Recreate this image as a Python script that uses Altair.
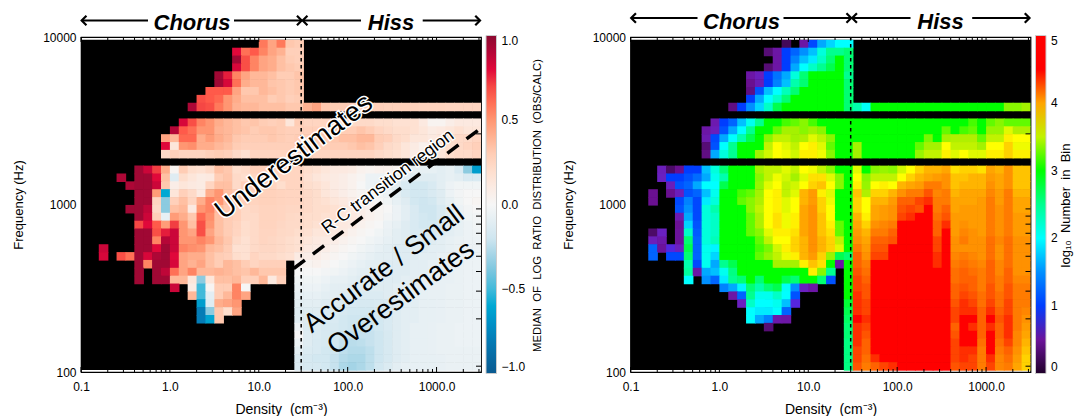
import math
import altair as alt
import pandas as pd

_ = None
# ---- LEFT PANEL: median log ratio, hundredths. (first column, values); row 0 is the top row
L00 = (20, [58,45,58,32,30])
L01 = (17, [80,60,65,55,45,40,28,28])
L02 = (17, [95,68,55,45,42,35,30,28])
L03 = (17, [82,68,55,45,42,35,32,30])
L04 = (15, [95,78,55,45,38,38,35,30,30,33])
L05 = (15, [95,82,60,42,38,38,33,32,30,32])
L06 = (14, [65,65,65,45,32,32,38,35,32,30,32])
L07 = (13, [68,65,62,50,42,35,35,35,30,32,28,30])
L08 = (12, [92,70,68,58,50,40,38,38,35,35,35,32,32,40,45,32,30,30,28,28,28,28,27,27,27,27,26,26,26,25,25,25,25])
L09 = (0, [])
L10 = (11, [82,68,55,50,42,38,35,32,33,30,28,30,15,30,25,25,25,25,22,22,22,22,20,20,18,18,18,12,3,3,8,12,12,12])
L11 = (10, [90,65,60,50,50,40,38,35,33,30,32,32,30,28,28,28,28,28,30,30,30,33,30,25,22,20,20,18,15,10,12,15,18,15,15])
L12 = (9, [45,38,62,62,42,48,42,38,32,30,30,30,32,30,28,30,30,30,30,32,35,35,38,38,30,28,22,20,15,15,12,15,20,22,22,25])
L13 = (9, [80,15,50,52,42,42,38,35,30,28,28,28,28,28,28,28,28,28,28,30,30,32,35,33,28,22,20,15,10,5,10,15,20,22,25,28])
L14 = (9, [22,28,25,25,25,28,30,28,22,18,25,25,25,25,25,25,25,25,25,25,25,25,25,25,22,20,18,15,8,5,8,15,20,22,22,25])
L15 = (0, [])
L16 = (6, [95,85,72,42,3,30,20,18,22,35,32,20,22,28,28,27,27,25,25,20,18,15,12,12,10,5,3,5,5,3,-5,-8,-8,-8,-10,-8,-15,-35,-65])
L17 = (4, [92,_,95,95,80,35,-12,20,15,10,12,30,33,22,20,25,28,28,25,25,25,18,15,12,10,8,5,2,-5,-5,-3,-5,-10,-12,-12,-12,-10,-8,-10,-15,-15])
L18 = (5, [92,95,95,85,32,8,15,12,10,25,35,35,22,28,28,28,25,20,25,25,20,18,15,10,8,5,0,-5,-8,-8,-10,-15,-18,-18,-15,-10,-5,-3,-3,-3])
L19 = (6, [95,95,48,-60,15,28,22,12,42,50,35,30,28,26,27,27,26,25,25,22,20,15,12,8,5,2,0,-3,-5,-10,-15,-18,-18,-15,-12,-5,-2,0,0])
L20 = (6, [95,95,25,-35,28,35,25,42,55,50,35,32,28,26,27,27,26,25,25,22,20,18,15,12,8,5,3,0,-3,-8,-12,-18,-20,-18,-12,-8,-3,0,2])
L21 = (5, [95,95,88,22,-35,35,38,12,50,55,38,32,28,22,24,26,26,25,24,24,22,20,20,18,15,10,8,5,2,0,-5,-10,-15,-20,-20,-15,-10,-5,-2,0])
L22 = (6, [95,85,28,-8,48,42,32,62,52,35,30,28,22,22,26,26,25,23,22,20,20,18,18,15,12,8,5,2,-2,-5,-10,-15,-18,-20,-15,-10,-6,-3,-2])
L23 = (6, [70,80,65,48,72,50,35,68,50,35,30,26,20,22,26,26,24,22,22,20,18,18,15,12,10,5,2,0,-5,-8,-12,-15,-18,-18,-15,-10,-8,-5,-3])
L24 = (6, [95,95,68,78,85,50,45,68,45,35,30,25,20,22,25,25,23,22,20,18,15,15,12,10,5,2,0,-3,-6,-10,-12,-15,-15,-15,-12,-10,-8,-5,-4])
L25 = (6, [95,95,55,90,85,50,50,55,50,38,32,22,18,22,25,24,22,20,18,15,12,10,8,5,2,0,-3,-5,-8,-10,-12,-14,-14,-12,-10,-8,-6,-5,-5])
L26 = (2, [85,_,_,_,95,95,80,95,85,55,52,50,38,35,30,18,18,22,24,24,22,20,18,12,10,8,5,2,0,-3,-5,-8,-10,-12,-12,-12,-12,-10,-10,-8,-6,-5,-5])
L27 = (2, [82,_,68,60,95,82,92,95,80,45,42,42,35,30,28,20,18,25,22,22,20,18,10,8,8,5,2,0,-3,-5,-8,-10,-10,-12,-12,-12,-10,-10,-8,-7,-6,-5,-5])
L28 = (6, [95,55,95,95,82,45,40,45,35,30,38,35,30,25,28,28,28,_,3,3,5,2,0,-3,-5,-8,-10,-10,-12,-12,-12,-10,-10,-8,-8,-7,-6,-5,-5])
L29 = (6, [95,_,95,88,60,45,55,38,38,40,38,35,33,38,32,32,32,_,0,0,0,-2,-3,-5,-8,-10,-10,-12,-12,-12,-12,-10,-10,-8,-8,-7,-6,-5,-5])
L30 = (6, [95,_,95,95,38,38,15,-35,15,35,35,38,28,28,38,12,28,_,-3,-3,-3,-5,-8,-8,-10,-12,-12,-12,-12,-12,-10,-10,-8,-8,-7,-7,-6,-5,-5])
L31 = (10, [85,_,10,-50,2,30,30,55,0,_,_,_,_,_,-5,-5,-5,-8,-10,-10,-12,-12,-12,-12,-12,-10,-10,-8,-8,-7,-7,-6,-6,-5,-5])
L32 = (12, [38,-50,-10,30,38,55,45,_,_,_,_,_,-8,-8,-8,-10,-10,-12,-14,-14,-14,-14,-12,-10,-10,-8,-8,-7,-7,-6,-6,-5,-5])
L33 = (13, [-65,-12,42,45,50,_,_,_,_,_,_,-10,-10,-10,-12,-12,-14,-15,-16,-16,-15,-14,-12,-10,-10,-8,-8,-7,-6,-6,-5,-5])
L34 = (13, [-80,-35,32,20,45,_,_,_,_,_,_,-12,-12,-12,-14,-14,-16,-18,-18,-18,-16,-14,-12,-10,-10,-8,-8,-7,-6,-6,-5,-5])
L35 = (13, [-80,-62,32,_,_,_,_,_,_,_,_,-12,-12,-14,-14,-15,-18,-20,-20,-20,-18,-15,-12,-10,-10,-8,-8,-7,-6,-6,-5,-5])
L36 = (24, [-5,-14,-14,-16,-16,-18,-20,-22,-20,-18,-15,-12,-10,-8,-8,-7,-6,-6,-5,-5,-5])
L37 = (24, [0,-12,-14,-16,-18,-20,-22,-22,-22,-20,-16,-12,-10,-8,-8,-7,-6,-6,-5,-5,-5])
L38 = (24, [-5,-12,-15,-16,-18,-22,-25,-24,-22,-20,-16,-12,-10,-8,-8,-7,-6,-6,-5,-5,-5])
L39 = (24, [-10,-14,-15,-18,-20,-24,-26,-26,-24,-20,-16,-12,-10,-8,-8,-7,-6,-6,-6,-6,-6])
L40 = (24, [-14,-16,-18,-18,-22,-26,-28,-28,-24,-20,-16,-12,-10,-8,-8,-8,-7,-6,-6,-6,-6])
L41 = (24, [-14,-16,-16,-18,-22,-28,-30,-28,-24,-18,-14,-10,-8,-8,-8,-8,-7,-6,-6,-6,-6])
LEFT_ROWS = [L00,L01,L02,L03,L04,L05,L06,L07,L08,L09,L10,L11,L12,L13,L14,L15,L16,L17,L18,L19,L20,
             L21,L22,L23,L24,L25,L26,L27,L28,L29,L30,L31,L32,L33,L34,L35,L36,L37,L38,L39,L40,L41]

# ---- RIGHT PANEL: log10 number in bin, hundredths
R00 = (17, [20,_,60,105,160,180,200,200])
R01 = (15, [30,60,100,120,150,170,220,250,250,260])
R02 = (16, [60,100,140,170,190,230,260,280,260])
R03 = (15, [30,60,100,160,200,230,250,270,280,260])
R04 = (13, [60,80,100,130,160,220,260,280,280,290,290,250])
R05 = (13, [40,75,100,140,170,240,260,290,290,295,295,260])
R06 = (13, [35,110,170,200,235,260,300,300,300,300,300,260])
R07 = (13, [100,160,200,230,260,300,300,300,300,300,300,260])
R08 = (11, [35,100,150,180,230,270,300,300,300,300,300,300,300,260,240,205,285,295,295,295,295,295,295,295,295,295,295,295,295,295,300,330,330,340])
R09 = (0, [])
R10 = (9, [70,100,120,170,210,250,290,310,315,320,330,315,300,300,300,295,300,300,300,300,300,300,300,300,300,300,300,300,310,315,300,320,330,320,320,320])
R11 = (8, [60,80,110,160,200,250,280,300,320,340,340,330,340,330,310,300,290,300,300,300,300,300,300,300,300,300,300,320,310,315,320,305,335,335,360,345,345])
R12 = (8, [70,105,160,200,240,270,300,330,350,350,340,345,360,350,330,300,295,300,300,305,305,300,300,300,300,325,310,340,345,345,345,320,350,350,375,370,370])
R13 = (8, [30,110,200,250,280,300,310,350,370,360,350,370,375,360,320,300,300,340,300,310,300,300,300,300,320,340,340,370,350,350,350,340,370,370,385,365,365])
R14 = (8, [35,160,220,250,280,300,340,355,370,365,355,375,375,365,330,300,300,340,300,300,300,300,305,300,335,350,350,375,360,370,360,360,375,375,385,375,375])
R15 = (0, [])
R16 = (3, [80,25,40,100,100,170,220,260,290,300,310,340,350,350,360,350,370,365,350,330,300,300,360,300,330,335,330,355,370,385,395,395,400,380,385,385,380,400,395,410,390,390])
R17 = (3, [85,100,100,110,125,160,210,240,280,300,305,330,350,365,355,340,360,380,380,360,330,300,370,330,350,350,350,370,385,395,400,405,410,390,390,395,395,405,400,410,390,390])
R18 = (4, [80,110,120,160,200,200,270,300,300,310,335,360,370,350,355,370,385,390,370,330,300,375,335,370,375,370,395,400,405,420,420,410,390,395,395,395,410,400,410,390,390])
R19 = (2, [40,_,40,80,110,120,170,210,300,300,315,320,340,370,375,350,360,395,405,375,360,300,300,390,345,385,385,395,410,420,420,435,415,420,395,400,400,400,415,405,420,395,395])
R20 = (2, [40,_,_,105,140,105,190,220,300,310,320,330,345,370,375,360,370,395,405,385,365,305,300,385,370,395,395,405,430,430,440,445,420,420,400,400,400,405,420,405,420,400,400])
R21 = (5, [110,150,105,220,240,300,300,310,330,350,370,375,360,370,400,410,385,370,310,300,385,370,400,405,410,435,440,435,450,420,430,400,405,405,405,420,410,420,400,400])
R22 = (5, [70,160,105,220,230,300,300,305,320,345,370,380,365,375,400,410,390,370,310,300,395,375,400,405,410,440,445,450,450,425,435,405,405,405,405,420,410,420,405,405])
R23 = (5, [45,180,110,220,230,300,300,305,320,345,370,380,365,375,400,410,390,375,320,305,400,385,410,415,420,450,450,450,450,430,445,405,410,405,405,420,410,420,405,405])
R24 = (2, [25,85,_,50,230,115,220,230,300,300,300,320,330,360,375,375,380,400,410,390,380,320,300,405,395,420,420,430,450,450,450,450,430,450,405,415,410,405,420,410,420,405,405])
R25 = (2, [80,65,_,50,260,120,220,235,300,300,300,310,320,350,370,370,385,395,410,395,385,350,300,410,400,430,430,435,450,450,450,450,440,450,410,420,410,410,425,415,425,410,410])
R26 = (2, [120,50,90,85,270,120,210,195,295,300,300,300,315,325,355,375,385,395,410,395,385,360,300,420,405,435,435,450,450,450,450,450,440,450,410,410,410,410,425,410,425,410,410])
R27 = (2, [120,_,105,105,260,120,210,180,280,290,300,300,320,335,350,365,375,395,405,385,335,270,260,430,410,440,440,450,450,450,450,450,445,450,415,420,415,410,425,410,425,410,410])
R28 = (6, [240,105,210,160,250,270,290,300,300,310,340,340,340,375,390,380,310,60,290,430,420,450,450,450,450,450,450,450,445,450,420,425,420,415,430,415,425,410,410])
R29 = (6, [245,60,160,170,210,255,280,300,280,300,300,300,300,300,375,330,250,_,295,435,425,450,450,450,450,450,450,450,450,450,425,430,425,420,430,415,430,410,410])
R30 = (6, [200,_,150,120,190,250,260,280,260,300,300,270,260,290,300,260,110,_,290,440,430,450,450,450,450,450,450,450,450,450,425,430,430,420,430,420,430,415,415])
R31 = (10, [140,160,195,260,240,260,270,205,150,85,60,_,_,_,285,440,435,450,450,450,450,450,450,450,450,450,430,435,430,420,435,420,435,420,420])
R32 = (11, [60,120,250,210,210,230,200,110,_,_,_,_,_,280,445,435,450,450,450,450,450,450,450,450,450,430,440,435,425,435,425,435,420,420])
R33 = (12, [85,230,200,200,210,170,90,_,_,_,_,_,275,445,440,450,450,450,450,450,450,450,450,450,435,445,440,425,440,425,440,420,420])
R34 = (13, [200,190,190,200,120,_,_,_,_,_,_,270,445,440,450,450,450,450,450,450,450,450,450,440,445,445,430,445,430,440,420,415])
R35 = (13, [200,160,140,65,60,_,_,_,_,_,_,265,450,445,450,450,450,450,450,450,450,450,450,440,450,450,430,450,435,445,420,410])
R36 = (15, [30,_,_,_,_,_,_,_,_,260,445,440,450,450,450,450,450,450,450,450,450,430,450,445,430,445,430,445,420,405])
R37 = (24, [260,445,435,450,450,450,450,450,450,450,450,450,435,450,450,430,450,430,445,415,400])
R38 = (24, [255,445,430,450,450,450,450,450,450,450,450,450,440,450,450,425,450,425,440,415,395])
R39 = (24, [255,440,430,450,450,450,450,450,450,450,450,450,440,445,445,420,450,420,430,410,390])
R40 = (24, [255,440,425,445,450,450,450,450,450,450,450,450,440,445,440,420,445,415,425,405,385])
R41 = (24, [255,435,420,430,440,445,450,450,450,450,450,450,435,440,440,420,440,415,420,400,385])
RIGHT_ROWS = [R00,R01,R02,R03,R04,R05,R06,R07,R08,R09,R10,R11,R12,R13,R14,R15,R16,R17,R18,R19,R20,
              R21,R22,R23,R24,R25,R26,R27,R28,R29,R30,R31,R32,R33,R34,R35,R36,R37,R38,R39,R40,R41]

N_ROWS = 42
N_COLS = 45
LOG_X0, LOG_DX = -1.0, 0.1
LOG_Y_TOP, LOG_DY = 3.983, 0.04693
OVERLAP = 0.008   # cells overlap their neighbours very slightly so no seam shows
XMIN, XMAX = 0.1, 10 ** 3.5
YMIN, YMAX = 100, 10000

LEFT_STOPS = [-1.0, -0.75, -0.55, -0.35, -0.2, 0.0, 0.15, 0.3, 0.5, 0.65, 0.8, 1.0]
LEFT_COLORS = ["#0a5a90", "#0085c0", "#00b4d8", "#8ccbe0", "#cfe6f0", "#f6f6f6", "#fde6da", "#ffcdb5",
               "#ff9672", "#ff5a4a", "#e0083a", "#8b0a30"]
RIGHT_STOPS = [0.0, 0.4, 0.85, 0.95, 1.5, 2.0, 2.5, 2.8, 3.1, 3.45, 3.7, 4.0, 4.5, 5.0]
RIGHT_COLORS = ["#20002a", "#6a1090", "#6a20c0", "#0a30ff", "#0090ff", "#00ffff", "#00ff90", "#00ff00",
                "#00ff00", "#b0f000", "#ffff00", "#ffa500", "#ff0000", "#ff0000"]

X_MAJOR = [0.1, 1, 10, 100, 1000]
X_MINOR = [m * d for d in (0.1, 1, 10, 100) for m in range(2, 10)] + [2000, 3000]
Y_TICKS_HZ = [m * d for d in (100, 1000) for m in range(1, 10)]
Y_TICK_LOG_SLOPE = 157.3 / 167.5   # the right-hand ticks run on a finer scale than the labels
Y_TICK_LOG_SHIFT = 5.8 / 167.5
Y_LABELS = [100, 1000, 10000]
DENSITY_SPLIT = 30
RC_X = [24.7, 3000]
RC_Y = [415, 2800]

W, H = 400, 335
FONT = "Liberation Sans"


def cells(rows):
    out = []
    for r, (start, vals) in enumerate(rows):
        for i, v in enumerate(vals):
            if v is None:
                continue
            c = start + i
            out.append({"x0": 10 ** (LOG_X0 + LOG_DX * c),
                        "x1": min(XMAX, 10 ** (LOG_X0 + LOG_DX * (c + 1) + OVERLAP)),
                        "y0": 10 ** (LOG_Y_TOP - LOG_DY * r),
                        "y1": 10 ** (LOG_Y_TOP - LOG_DY * (r + 1) - OVERLAP / 2),
                        "v": v / 100})
    return pd.DataFrame(out)


def rule_x(vals, y0, y1):
    return alt.Chart(pd.DataFrame({"x": vals})).mark_rule(color="black", strokeWidth=1).encode(
        x=alt.X("x:Q"), y=alt.value(y0), y2=alt.value(y1))


def text(s, x, y, size, angle=0, weight="normal", style="normal", halo=0):
    parts = []
    if halo:
        parts.append(alt.Chart().mark_text(text=s, angle=angle, font=FONT, fontSize=size, fontWeight=weight,
                                           fontStyle=style, stroke="white", strokeWidth=halo, fill="white",
                                           align="center", baseline="middle").encode(x=alt.value(x), y=alt.value(y)))
    parts.append(alt.Chart().mark_text(text=s, angle=angle, font=FONT, fontSize=size, fontWeight=weight,
                                       fontStyle=style, color="black",
                                       align="center", baseline="middle").encode(x=alt.value(x), y=alt.value(y)))
    return parts


def arrow(x0, x1, y, head_left):
    tip = x0 if head_left else x1
    shape = "M1,-1L0,0L1,1" if head_left else "M-1,-1L0,0L-1,1"
    return [
        alt.Chart().mark_rule(color="black", strokeWidth=2.2).encode(x=alt.value(x0), x2=alt.value(x1), y=alt.value(y)),
        alt.Chart().mark_point(shape=shape, filled=False, color="black", strokeWidth=2.2, size=90, opacity=1).encode(
            x=alt.value(tip), y=alt.value(y)),
    ]


x_scale = alt.Scale(type="log", domain=[XMIN, XMAX], nice=False)
y_scale = alt.Scale(type="log", domain=[YMIN, YMAX], nice=False)


def panel(rows, stops, colors, legend_values, legend_fmt, title_layers, header_y, header_text_drop):
    df = cells(rows)
    bg = alt.Chart(pd.DataFrame({"x0": [XMIN], "x1": [XMAX],
                                 "y0": [10 ** LOG_Y_TOP], "y1": [10 ** (LOG_Y_TOP - LOG_DY * N_ROWS)]})).mark_rect(color="black").encode(
        x=alt.X("x0:Q", scale=x_scale, title="Density\u00a0 (cm\u207b\u00b3)",
                axis=alt.Axis(values=X_MAJOR, labelExpr="format(datum.value,'.1f')", grid=False, domain=False, ticks=False,
                              labelFont=FONT, labelFontSize=12, labelColor="black", labelPadding=9, labelFlush=False,
                              labelOverlap=False, titleFont=FONT, titleFontSize=14, titleFontWeight="normal",
                              titleColor="black", titlePadding=10)),
        x2="x1:Q",
        y=alt.Y("y0:Q", scale=y_scale, title="Frequency (Hz)",
                axis=alt.Axis(values=Y_LABELS, format="d", grid=False, domain=False, ticks=False, labelFont=FONT,
                              labelFontSize=12, labelColor="black", labelPadding=5, labelFlush=False, labelOverlap=False,
                              titleFont=FONT, titleFontSize=13, titleFontWeight="normal", titleColor="black",
                              titlePadding=17)),
        y2="y1:Q",
    )
    cscale = alt.Scale(domain=stops, range=colors, clamp=True)
    heat = alt.Chart(df).mark_rect(opacity=1).encode(
        x=alt.X("x0:Q"), x2="x1:Q", y=alt.Y("y0:Q"), y2="y1:Q",
        color=alt.Color("v:Q", scale=cscale,
                        legend=alt.Legend(type="gradient", orient="none", legendX=405, legendY=-1.5, direction="vertical", title=None,
                                          gradientLength=338, gradientThickness=10.5, gradientStrokeColor="#cccccc",
                                          gradientStrokeWidth=1, values=legend_values, labelExpr=legend_fmt,
                                          labelFont=FONT, labelFontSize=12, labelColor="black", labelOffset=5, padding=0)),
    )
    ticks = [
        rule_x(X_MAJOR, H, H - 5), rule_x(X_MINOR, H, H - 3),
        rule_x(X_MAJOR, 0, 5), rule_x(X_MINOR, 0, 3),
    ]
    ytv = pd.DataFrame({"y": [10 ** (2 + Y_TICK_LOG_SHIFT + Y_TICK_LOG_SLOPE * math.log10(f / 100)) for f in Y_TICKS_HZ]})
    yticks = alt.Chart(ytv).mark_rule(color="black", strokeWidth=1).encode(
        y=alt.Y("y:Q"), x=alt.value(W), x2=alt.value(W - 5))
    split = alt.Chart(pd.DataFrame({"x": [DENSITY_SPLIT]})).mark_rule(color="black", strokeWidth=1.5, strokeDash=[3.5, 3.5]).encode(
        x=alt.X("x:Q"))
    hdr = []
    hdr += text("Chorus", 111, header_y + header_text_drop, 22, weight="bold", style="italic")
    hdr += text("Hiss", 310, header_y + header_text_drop, 22, weight="bold", style="italic")
    hdr += arrow(0.7, 67, header_y, True) + arrow(153, 220.7, header_y, False)
    hdr += arrow(221.7, 280, header_y, True) + arrow(341.7, 399, header_y, False)
    return alt.layer(bg, heat, *ticks, yticks, split, *title_layers, *hdr).properties(width=W, height=H)


rc = alt.Chart(pd.DataFrame({"x": [RC_X[0]], "x2": [RC_X[1]], "y": [RC_Y[0]], "y2": [RC_Y[1]]})).mark_rule(
    color="black", strokeWidth=3.5, strokeDash=[14, 10]).encode(x=alt.X("x:Q"), x2="x2:Q", y=alt.Y("y:Q"), y2="y2:Q")

left_extra = [rc]
left_extra += text("R-C transition region", 307, 145, 17.5, angle=323, halo=2.5)
left_extra += text("Underestimates", 213, 120, 27, angle=323, halo=3)
left_extra += text("Accurate / Small", 303, 232, 26.5, angle=323)
left_extra += text("Overestimates", 320, 261, 27, angle=324)
left_extra += text("MEDIAN\u00a0 OF\u00a0 LOG\u00a0 RATIO\u00a0 DISTRIBUTION\u00a0 (OBS/CALC)", 456.5, 168.5, 11.3, angle=270)

right_extra = text("log\u2081\u2080\u00a0 Number\u00a0 in\u00a0 Bin", 435, 168.5, 13, angle=270)

left = panel(LEFT_ROWS, LEFT_STOPS, LEFT_COLORS, [-1.0, -0.5, 0.0, 0.5, 1.0], "format(datum.value,'.1f')",
             left_extra, -16.5, 2)
right = panel(RIGHT_ROWS, RIGHT_STOPS, RIGHT_COLORS, [0, 1, 2, 3, 4, 5], "format(datum.value,'d')",
              right_extra, -19, 3.5)

chart = alt.hconcat(left, right, spacing=17.5).resolve_scale(color="independent").configure_view(
    stroke="black", strokeWidth=1.2).properties(padding={"left": 4, "top": 0, "right": 0, "bottom": 0}, background="white")

chart.save("out.html", embed_options={"renderer": "svg", "actions": False})
